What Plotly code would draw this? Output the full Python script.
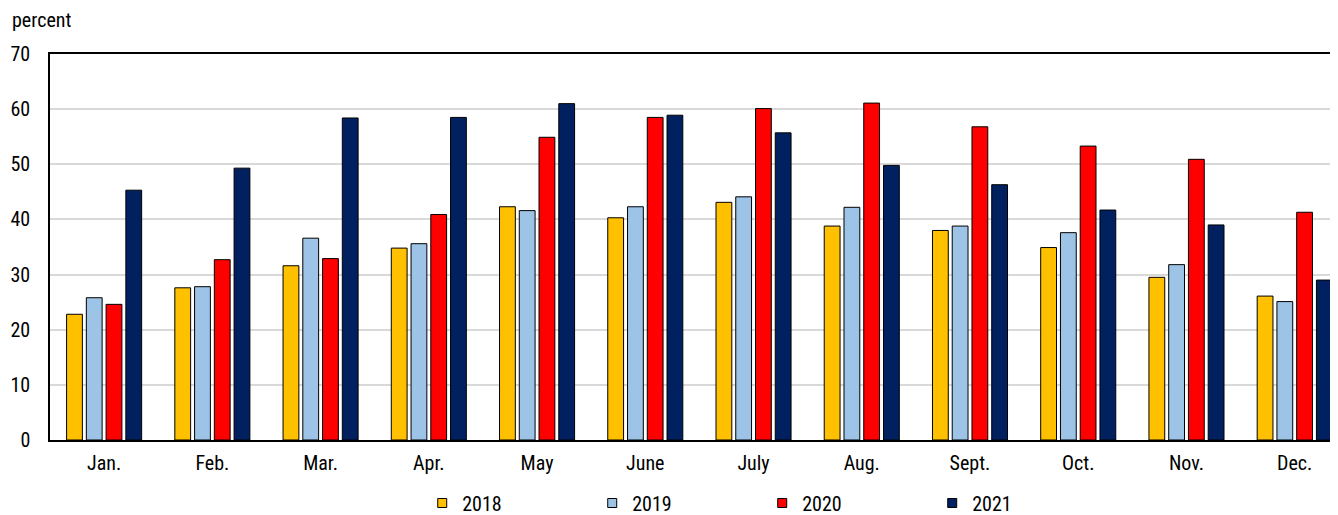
import plotly.graph_objects as go

months = ["Jan.", "Feb.", "Mar.", "Apr.", "May", "June", "July", "Aug.", "Sept.", "Oct.", "Nov.", "Dec."]
v2018 = [22.8, 27.6, 31.6, 34.8, 42.3, 40.3, 43.1, 38.8, 38.0, 34.9, 29.5, 26.1]
v2019 = [25.8, 27.8, 36.6, 35.6, 41.6, 42.3, 44.1, 42.2, 38.8, 37.6, 31.8, 25.1]
v2020 = [24.6, 32.7, 32.9, 40.9, 54.9, 58.5, 60.1, 61.1, 56.8, 53.3, 50.9, 41.3]
v2021 = [45.3, 49.3, 58.4, 58.5, 61.0, 58.9, 55.7, 49.8, 46.3, 41.7, 39.0, 29.0]

series = [("2018", v2018, "#FFC000"), ("2019", v2019, "#9DC3E6"),
          ("2020", v2020, "#FF0000"), ("2021", v2021, "#002060")]

FONT = "Roboto Condensed, Arial Narrow, Roboto, sans-serif"

fig = go.Figure()
for name, vals, col in series:
    fig.add_trace(go.Bar(x=months, y=vals, name=name, showlegend=False,
                         marker=dict(color=col, line=dict(color="#000000", width=1))))
# legend entries (small square swatches)
for name, vals, col in series:
    fig.add_trace(go.Scatter(x=[None], y=[None], mode="markers", name=name,
                             marker=dict(symbol="square", size=9, color=col,
                                         line=dict(color="#000000", width=1))))

fig.update_layout(
    width=1330, height=507,
    margin=dict(l=42, r=0, t=46, b=75),
    paper_bgcolor="white", plot_bgcolor="white",
    barmode="group", bargap=0.27, bargroupgap=0.2,
    font=dict(family=FONT, size=20, color="#000000"),
    showlegend=True,
    legend=dict(orientation="h", x=0.2890, xanchor="left",
                y=12/507, yanchor="middle", yref="container",
                entrywidth=125, entrywidthmode="pixels", traceorder="normal",
                font=dict(size=20), itemwidth=30, bgcolor="rgba(0,0,0,0)"),
    xaxis=dict(range=[-0.5, 11.4], showline=True, linecolor="#000000", linewidth=1.5,
               mirror=True, ticks="", showgrid=False, tickfont=dict(size=20),
               ticklabelstandoff=4),
    yaxis=dict(range=[0, 70], dtick=10, showline=True, linecolor="#000000", linewidth=1.5,
               showgrid=True, gridcolor="#d9d9d9", gridwidth=1.5, ticks="",
               ticklabelstandoff=14, tickfont=dict(size=20), zeroline=False),
    annotations=[dict(text="percent", xref="paper", yref="paper", x=-40/1288, y=1,
                      xanchor="left", yanchor="middle", yshift=34, showarrow=False,
                      font=dict(size=20))],
)

fig.write_html("out.html")
